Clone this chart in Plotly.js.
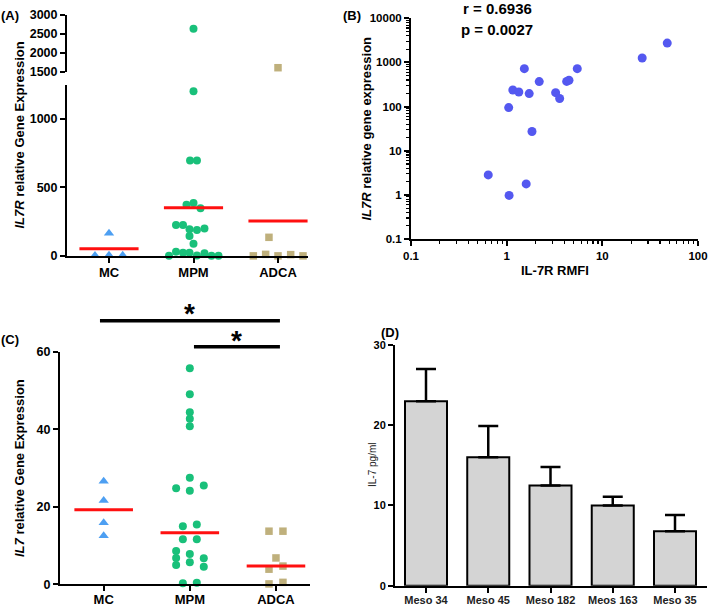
<!DOCTYPE html>
<html><head><meta charset="utf-8">
<script src="https://cdn.plot.ly/plotly-3.0.1.min.js"></script>
<style>html,body{margin:0;padding:0;background:#fff}#chart{width:709px;height:608px}</style>
</head><body><div id="chart"></div>
<script>
// ---------------- DATA ----------------
const groups = ['MC', 'MPM', 'ADCA'];

// Panel A: IL7R relative gene expression (dx = horizontal spread within group, category units)
const il7rMC = [4, 6, 5, 165];
const il7rMCdx = [-0.166, 0, 0.162, 0];
const il7rMPM = [2640, 1200, 695, 695, 374, 385, 347, 226, 226, 194, 189, 201, 146, 90, 31, 24, 24, 20, 2, 3, 1, 1];
const il7rMPMdx = [0, 0, -0.041, 0.041, -0.083, 0, 0.083, -0.207, -0.124, -0.047, 0.041, 0.13, -0.047, 0, -0.207, -0.124, -0.047, 0.13, -0.29, 0.041, 0.213, 0.296];
const il7rADCA = [1613, 136, 1, 12, 1, 10, 1];
const il7rADCAdx = [0, -0.107, -0.292, -0.146, 0, 0.15, 0.296];
const il7rMeans = [53, 352, 255];

// Panel B: correlation
const rmfi = [47.7, 26.1, 1.53, 5.47, 2.19, 4.24, 4.48, 1.16, 1.34, 1.72, 3.25, 3.58, 1.05, 1.84, 0.642, 1.06, 1.60];
const il7rExpr = [2748, 1259, 724, 724, 368, 372, 394, 237, 214, 197, 207, 152, 95, 27.2, 2.83, 0.97, 1.77];
const corrText = ['r = 0.6936', 'p = 0.0027'];

// Panel C: IL7 relative gene expression
const il7MC = [26.6, 21.6, 15.9, 12.5];
const il7MCdx = [0, 0, 0, 0];
const il7MPM = [55.7, 49.0, 44.4, 42.7, 40.8, 27.5, 24.8, 24.1, 25.5, 15.0, 15.4, 11.6, 11.6, 8.6, 7.8, 6.8, 6.7, 5.0, 5.7, 4.5, 0.3, 0.4];
const il7MPMdx = [0, 0, 0, 0, 0, 0, -0.159, 0, 0.162, -0.081, 0.081, -0.081, 0.081, -0.159, 0, -0.159, 0.162, -0.159, 0, 0.162, -0.081, 0.081];
const il7ADCA = [13.7, 13.7, 6.8, 3.9, 4.7, 0.1, 0.5];
const il7ADCAdx = [-0.081, 0.081, 0, -0.081, 0.081, -0.081, 0.081];
const il7Means = [19.2, 13.3, 4.7];

// Panel D: IL-7 pg/ml
const cellLines = ['Meso 34', 'Meso 45', 'Meso 182', 'Meos 163', 'Meso 35'];
const il7pg = [23.0, 16.0, 12.5, 10.0, 6.8];
const il7pgErr = [4.0, 3.9, 2.3, 1.1, 2.0];

// ---------------- STYLE ----------------
const F = 'Arial, "Liberation Sans", sans-serif';
const W = 709, H = 608;
const fx = p => p / W, fy = p => 1 - p / H;
const cBlue = '#4d9ff2', cGreen = '#19c07a', cTan = '#bfb07c', cRed = '#ff1010', cB = '#5458f0';
const BREAK = 1300;

function dots(vals, dx, gi, sym, color, size, xa, ya, keep) {
  const x = [], y = [];
  vals.forEach((v, i) => { if (keep(v)) { x.push(gi + dx[i]); y.push(v); } });
  return { type: 'scatter', mode: 'markers', x, y, xaxis: xa, yaxis: ya, cliponaxis: false, hoverinfo: 'skip',
    marker: { symbol: sym, color, size, line: { width: 0 } }, showlegend: false };
}
function meanLines(means, xa, ya, hw) {
  const x = [], y = [];
  means.forEach((m, i) => { x.push(i - hw, i + hw, null); y.push(m, m, null); });
  return { type: 'scatter', mode: 'lines', x, y, xaxis: xa, yaxis: ya, cliponaxis: false, hoverinfo: 'skip',
    line: { color: cRed, width: 3 }, showlegend: false };
}
const lo = v => v <= BREAK, hi = v => v > BREAK, all = v => true;

const traces = [
  // Panel A (lower and upper segments)
  dots(il7rMC, il7rMCdx, 0, 'triangle-up', cBlue, 9, 'x', 'y', lo),
  dots(il7rMPM, il7rMPMdx, 1, 'circle', cGreen, 8, 'x', 'y', lo),
  dots(il7rADCA, il7rADCAdx, 2, 'square', cTan, 7.5, 'x', 'y', lo),
  dots(il7rMC, il7rMCdx, 0, 'triangle-up', cBlue, 9, 'x', 'y2', hi),
  dots(il7rMPM, il7rMPMdx, 1, 'circle', cGreen, 8, 'x', 'y2', hi),
  dots(il7rADCA, il7rADCAdx, 2, 'square', cTan, 7.5, 'x', 'y2', hi),
  meanLines(il7rMeans, 'x', 'y', 0.35),
  // Panel B
  { type: 'scatter', mode: 'markers', x: rmfi, y: il7rExpr, xaxis: 'x2', yaxis: 'y3', cliponaxis: false, hoverinfo: 'skip',
    marker: { color: cB, size: 9, line: { width: 0 } }, showlegend: false },
  // Panel C
  dots(il7MC, il7MCdx, 0, 'triangle-up', cBlue, 9, 'x3', 'y4', all),
  dots(il7MPM, il7MPMdx, 1, 'circle', cGreen, 8, 'x3', 'y4', all),
  dots(il7ADCA, il7ADCAdx, 2, 'square', cTan, 7.5, 'x3', 'y4', all),
  meanLines(il7Means, 'x3', 'y4', 0.34),
  // Panel D
  { type: 'bar', x: cellLines.map((_, i) => i), y: il7pg, xaxis: 'x4', yaxis: 'y5', width: 0.675, hoverinfo: 'skip',
    marker: { color: '#d4d4d4', line: { color: '#000', width: 2 } },
    error_y: { type: 'data', symmetric: false, array: il7pgErr, arrayminus: il7pgErr.map(() => 0), color: '#000', thickness: 2.5, width: 10 },
    showlegend: false }
];

const tf = (s, extra) => Object.assign({ family: F, size: s, color: '#000', weight: 'bold' }, extra || {});
const ax = o => Object.assign({ showgrid: false, zeroline: false, showline: true, linecolor: '#000', linewidth: 2,
  ticks: 'outside', tickcolor: '#000', tickwidth: 2, ticklen: 5, tickfont: tf(12.5), fixedrange: true }, o);
const logMinor = { ticks: 'outside', ticklen: 3, tickwidth: 1.2, tickcolor: '#000', showgrid: false, dtick: 'D1' };

const layout = {
  width: W, height: H, margin: { l: 0, r: 0, t: 0, b: 0 }, paper_bgcolor: '#fff', plot_bgcolor: 'rgba(0,0,0,0)',
  showlegend: false, font: { family: F },
  // Panel A
  xaxis: ax({ domain: [fx(67), fx(308)], range: [-0.497, 2.355], anchor: 'y', tickmode: 'array', tickvals: [0, 1, 2], ticktext: groups, tickfont: tf(13), ticklabelstandoff: -2 }),
  yaxis: ax({ domain: [fy(256), fy(85)], range: [0, 1245], anchor: 'x', tickmode: 'array', tickvals: [0, 500, 1000] }),
  yaxis2: ax({ domain: [fy(72), fy(15)], range: [1500, 3000], anchor: 'x', tickmode: 'linear', tick0: 1500, dtick: 500 }),
  // Panel B
  xaxis2: ax({ type: 'log', domain: [fx(411), fx(698)], range: [-1, 2], anchor: 'y3', dtick: 1, tickformat: '~g', tickfont: tf(11.5), minor: logMinor }),
  yaxis3: ax({ type: 'log', domain: [fy(239), fy(18.3)], range: [-1, 4], anchor: 'x2', dtick: 1, tickformat: '~g', tickfont: tf(11.5), minor: logMinor }),
  // Panel C
  xaxis3: ax({ domain: [fx(60), fx(310)], range: [-0.507, 2.395], anchor: 'y4', tickmode: 'array', tickvals: [0, 1, 2], ticktext: groups, tickfont: tf(13), ticklabelstandoff: -3 }),
  yaxis4: ax({ domain: [fy(584.3), fy(351.7)], range: [0, 60], anchor: 'x3', tickmode: 'linear', tick0: 0, dtick: 20 }),
  // Panel D
  xaxis4: ax({ domain: [fx(395), fx(707)], range: [-0.498, 4.514], anchor: 'y5', tickmode: 'array', tickvals: cellLines.map((_, i) => i), ticktext: cellLines,
    tickfont: tf(11, { color: '#222' }), ticklabelstandoff: -2 }),
  yaxis5: ax({ domain: [fy(585.7), fy(345)], range: [0, 30], anchor: 'x4', tickmode: 'linear', tick0: 0, dtick: 10, tickfont: tf(11) }),
  shapes: [
    { type: 'line', xref: 'x3', yref: 'paper', x0: -0.043, x1: 2.046, y0: fy(320.7), y1: fy(320.7), line: { color: '#000', width: 3.5 } },
    { type: 'line', xref: 'x3', yref: 'paper', x0: 1.048, x1: 2.046, y0: fy(346.7), y1: fy(346.7), line: { color: '#000', width: 3.5 } }
  ],
  annotations: []
};

function ann(text, px, py, size, opts) {
  layout.annotations.push(Object.assign({ text, xref: 'paper', yref: 'paper', x: fx(px), y: fy(py), xanchor: 'center', yanchor: 'middle',
    showarrow: false, font: tf(size) }, opts || {}));
}
ann('(A)', 10, 15, 13);
ann('(B)', 352, 15, 13);
ann('(C)', 10, 339, 13);
ann('(D)', 390, 332, 13);
ann('<i>IL7R</i> relative Gene Expression', 19, 135.5, 13, { textangle: -90 });
ann('<i>IL7R</i> relative gene expression', 366, 128.5, 13, { textangle: -90 });
ann('<i>IL7</i> relative Gene Expression', 19, 468, 13, { textangle: -90 });
ann('IL-7 pg/ml', 372, 465, 10, { textangle: -90, font: { family: F, size: 10, color: '#222' } });
ann('IL-7R RMFI', 555, 270, 13);
ann(corrText[0], 497, 8, 15);
ann(corrText[1], 497, 30, 15);
// significance asterisks centred over their bars
layout.annotations.push({ text: '*', xref: 'x3', yref: 'paper', x: (-0.043 + 2.046) / 2, y: fy(313), xanchor: 'center', yanchor: 'middle', showarrow: false, font: tf(28) });
layout.annotations.push({ text: '*', xref: 'x3', yref: 'paper', x: (1.048 + 2.046) / 2, y: fy(340), xanchor: 'center', yanchor: 'middle', showarrow: false, font: tf(28) });

Plotly.newPlot('chart', traces, layout, { staticPlot: true, displayModeBar: false });
</script>
</body></html>
